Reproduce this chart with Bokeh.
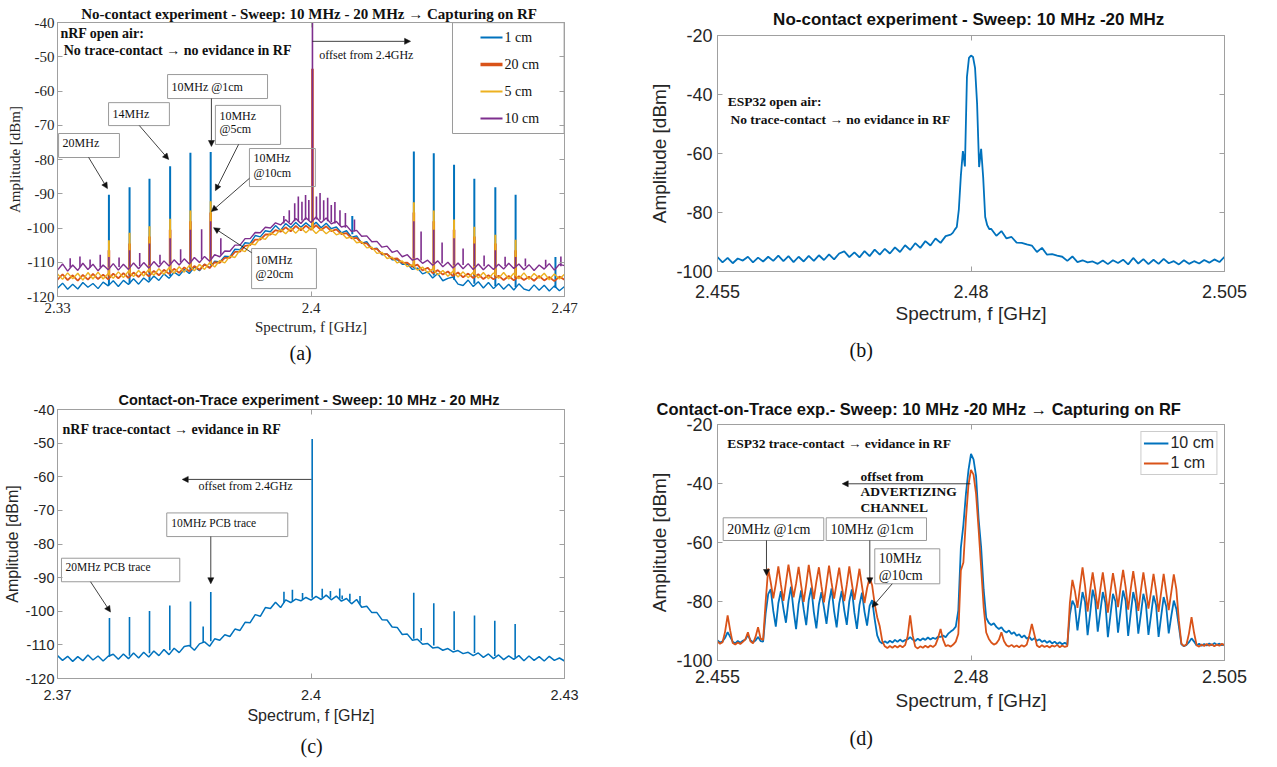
import numpy as np
from bokeh.plotting import figure
from bokeh.models import (Range1d, LinearAxis, FixedTicker, Label, Arrow, NormalHead,
                          Legend, LegendItem, Title, ColumnDataSource)
from bokeh.layouts import column, row
from bokeh.embed import file_html
from bokeh.resources import INLINE

# ---------------- colours / fonts ----------------
C_BLUE, C_ORANGE, C_YELLOW, C_PURPLE = "#0072BD", "#D95319", "#EDB120", "#7E2F8E"
FRAME = "#a0a0a0"
TXT = "#262626"
SERIF = "Liberation Serif"
SANS = "Liberation Sans"

# ================= DATA =================
# (a) no-contact, nRF, four distances
freq_a = np.round(np.linspace(2.330, 2.470, 101), 4)
blue_a = [-117.6, -116.1, -117.9, -116.4, -117.8, -115.9, -117.3, -116.2, -117.7, -115.8,
          -116.9, -115.4, -117.1, -115.3, -116.5, -114.8, -116.4, -114.6, -115.8, -114.0,
          -115.3, -113.4, -114.7, -112.9, -113.9, -112.1, -113.3, -111.4, -112.5, -110.6,
          -111.6, -109.7, -109.9, -108.2, -108.4, -106.2, -106.3, -104.3, -104.5, -102.2,
          -102.6, -100.8, -101.1, -99.3, -100.7, -98.7, -99.9, -98.4, -99.8, -98.5,
          -99.7, -98.3, -99.9, -98.6, -100.2, -99.7, -101.4, -100.8, -102.7, -102.3,
          -104.4, -104.0, -106.1, -105.9, -107.8, -107.6, -109.3, -109.2, -110.6, -110.5,
          -112.1, -111.7, -113.4, -112.8, -114.6, -113.3, -115.4, -114.7, -114.3, -116.4,
          -116.8, -115.2, -117.1, -115.7, -117.5, -115.9, -117.7, -116.2, -117.9, -116.4,
          -118.1, -116.3, -117.8, -118.3, -116.6, -118.2, -116.7, -118.4, -116.9, -118.3,
          -117.1]
orange_a = [-115.1, -113.5, -115.2, -113.8, -115.4, -113.7, -115.1, -113.4, -114.9, -113.6,
            -115.0, -113.3, -114.7, -113.2, -114.6, -113.0, -114.3, -112.7, -114.1, -112.5,
            -113.8, -112.2, -113.4, -111.9, -113.1, -111.5, -112.6, -111.1, -112.2, -110.6,
            -111.7, -110.0, -110.2, -108.7, -108.7, -107.0, -106.9, -105.2, -105.0, -103.4,
            -103.4, -101.9, -101.9, -100.6, -101.1, -99.8, -101.0, -99.4, -100.7, -99.3,
            -100.5, -99.2, -100.6, -99.5, -100.9, -100.4, -101.8, -101.5, -103.0, -102.9,
            -104.4, -104.5, -106.1, -106.1, -107.6, -107.6, -109.0, -108.9, -110.2, -110.1,
            -111.3, -110.7, -112.4, -111.6, -113.2, -112.3, -113.6, -112.7, -114.0, -113.0,
            -114.4, -113.3, -114.6, -113.5, -114.9, -113.8, -115.0, -113.9, -115.2, -114.0,
            -115.3, -114.1, -115.2, -114.2, -115.4, -114.0, -115.3, -114.3, -115.5, -114.2,
            -115.1]
yellow_a = [-113.4, -115.0, -113.1, -114.8, -113.2, -115.2, -113.0, -114.9, -112.9, -114.9,
            -113.3, -114.7, -112.8, -114.5, -112.6, -114.2, -112.4, -114.0, -112.1, -113.8,
            -111.9, -113.5, -111.6, -113.2, -111.3, -112.9, -110.9, -112.5, -110.6, -112.1,
            -110.1, -111.4, -109.5, -110.2, -108.2, -108.6, -106.4, -106.9, -104.6, -104.9,
            -102.9, -103.3, -101.5, -102.1, -100.4, -101.7, -100.1, -101.5, -99.9, -101.4,
            -100.0, -101.6, -100.2, -101.7, -100.5, -102.0, -101.4, -103.0, -102.6, -104.3,
            -104.0, -105.8, -105.6, -107.4, -107.1, -108.9, -108.5, -110.2, -109.6, -111.3,
            -110.7, -112.3, -111.4, -113.1, -111.9, -113.7, -112.4, -114.1, -112.6, -114.3,
            -112.8, -114.5, -112.9, -114.6, -113.0, -114.8, -113.1, -114.7, -113.0, -114.9,
            -113.2, -114.8, -113.1, -115.0, -113.3, -114.7, -113.2, -115.1, -113.4, -114.9,
            -113.5]
purple_a = [-112.3, -110.5, -112.6, -110.8, -112.4, -110.3, -112.1, -110.6, -112.5, -110.8,
            -112.2, -110.4, -112.3, -110.6, -112.1, -110.2, -111.9, -110.1, -111.7, -109.8,
            -111.4, -109.6, -111.1, -109.3, -110.8, -109.0, -110.5, -108.6, -110.1, -108.3,
            -109.7, -107.8, -108.4, -106.7, -106.8, -105.0, -105.0, -103.1, -103.1, -101.3,
            -101.4, -99.8, -100.0, -98.5, -99.1, -97.6, -99.0, -97.2, -98.7, -97.0,
            -98.4, -96.8, -98.5, -97.1, -98.8, -98.1, -99.7, -99.3, -101.0, -100.7,
            -102.4, -102.3, -104.0, -103.9, -105.6, -105.3, -107.1, -106.6, -108.4, -107.8,
            -109.4, -108.9, -110.3, -109.4, -110.9, -109.6, -111.3, -110.0, -111.7, -110.2,
            -111.9, -110.4, -112.1, -110.5, -112.2, -110.7, -112.1, -110.6, -112.0, -110.3,
            -111.8, -110.5, -112.2, -110.7, -112.4, -110.8, -112.0, -110.4, -112.3, -110.6,
            -111.0]

# (a) narrow spectral lines: frequency, foot, peak
spk_a_blue_f = [2.3442, 2.3499, 2.3554, 2.3611, 2.3667, 2.3723, 2.4114, 2.4284, 2.4339, 2.4395, 2.4451, 2.4509, 2.4565, 2.4675]
spk_a_blue_lo = [-116.7, -116.2, -115.3, -114.0, -112.5, -110.8, -101.8, -111.7, -113.9, -115.1, -116.3, -116.9, -117.2, -117.5]
spk_a_blue_hi = [-90.3, -88.1, -85.6, -82.0, -78.0, -77.8, -96.5, -77.7, -78.2, -81.5, -85.6, -88.1, -90.3, -108.5]

spk_a_orange_f = [2.3442, 2.3499, 2.3554, 2.3611, 2.3667, 2.3723, 2.4004, 2.4284, 2.4339, 2.4395, 2.4451, 2.4509, 2.4565]
spk_a_orange_lo = [-114.2, -113.8, -113.1, -112.4, -111.6, -110.6, -99.8, -111.3, -112.4, -113.4, -113.8, -114.2, -114.6]
spk_a_orange_hi = [-106.5, -104.5, -102.5, -100.5, -98.0, -95.5, -53.5, -95.5, -98.0, -100.5, -102.5, -104.5, -106.5]

spk_a_yellow_f = [2.3442, 2.3499, 2.3554, 2.3611, 2.3667, 2.3723, 2.4004, 2.4284, 2.4339, 2.4395, 2.4451, 2.4509, 2.4565]
spk_a_yellow_lo = [-113.6, -113.2, -112.6, -112.0, -111.2, -110.4, -100.4, -111.2, -112.3, -113.0, -113.5, -113.7, -113.9]
spk_a_yellow_hi = [-103.6, -101.4, -99.5, -97.3, -94.9, -92.2, -88.0, -92.5, -94.9, -97.5, -99.6, -102.0, -103.4]

spk_a_purple_f = [2.3335, 2.3362, 2.3390, 2.3418, 2.3442, 2.3470, 2.3499, 2.3527, 2.3554, 2.3583,
                  2.3611, 2.3640, 2.3667, 2.3698, 2.3723, 2.3751, 2.3925, 2.3940, 2.3955, 2.3965,
                  2.3975, 2.3985, 2.3994, 2.4004, 2.4015, 2.4025, 2.4035, 2.4046, 2.4056, 2.4066,
                  2.4080, 2.4095, 2.4120, 2.4284, 2.4304, 2.4339, 2.4362, 2.4395, 2.4420, 2.4451,
                  2.4478, 2.4509, 2.4536, 2.4565, 2.4592, 2.4648, 2.4690]
spk_a_purple_lo = [-111.5, -111.4, -111.6, -111.5, -111.5, -111.4, -111.3, -111.1, -110.9, -110.6,
                   -110.4, -110.0, -109.8, -109.2, -109.0, -107.8, -98.7, -98.3, -98.0, -98.0,
                   -97.8, -97.6, -97.7, -97.8, -97.5, -97.6, -97.8, -98.0, -98.3, -98.7,
                   -99.3, -99.9, -101.0, -108.9, -109.5, -110.2, -110.4, -110.9, -110.8, -111.2,
                   -111.2, -111.3, -111.2, -111.2, -111.2, -111.3, -111.2]
spk_a_purple_hi = [-108.8, -108.3, -109.2, -107.8, -108.5, -108.6, -106.5, -107.3, -104.5, -107.8,
                   -103.0, -106.2, -100.5, -100.4, -98.0, -103.0, -96.5, -94.8, -92.8, -90.8,
                   -92.3, -90.4, -91.8, -39.0, -90.8, -89.8, -91.9, -91.2, -93.3, -92.4,
                   -94.8, -95.6, -97.5, -98.0, -101.0, -100.5, -104.2, -103.0, -106.0, -104.5,
                   -108.0, -106.5, -108.4, -108.5, -108.9, -109.3, -108.3]

# (b) no-contact, ESP32
freq_b = np.round(np.concatenate([np.linspace(2.4550, 2.4780, 47),
                                  np.linspace(2.4782, 2.4818, 19),
                                  np.linspace(2.4820, 2.5050, 47)]), 4)
amp_b = [-95.1, -96.9, -95.4, -97.2, -95.6, -96.3, -95.0, -96.9, -95.3, -96.6,
         -95.0, -96.4, -94.6, -96.5, -94.8, -96.8, -95.0, -96.6, -94.7, -96.4,
         -94.5, -96.1, -94.2, -95.9, -93.9, -93.2, -95.1, -93.5, -95.2, -93.1,
         -94.8, -92.6, -94.3, -92.3, -93.9, -91.8, -93.4, -91.1, -92.7, -90.4,
         -92.0, -89.7, -91.2, -88.8, -90.3, -88.0, -87.5,
         -86.9, -85.8, -84.9, -79.0, -67.5, -59.2, -64.4, -34.0, -27.6, -26.8,
         -27.3, -31.0, -43.0, -64.6, -58.4, -68.0, -81.5, -84.3, -85.6,
         -85.6, -87.9, -86.3, -88.8, -88.3, -90.2, -90.3, -90.8, -91.2, -93.4,
         -92.0, -94.3, -94.1, -94.6, -95.0, -96.4, -94.9, -96.8, -96.2, -96.9,
         -96.6, -97.4, -96.3, -97.5, -96.2, -97.1, -96.0, -97.6, -95.4, -97.3,
         -95.8, -97.5, -96.0, -97.4, -95.7, -97.2, -96.5, -97.6, -96.2, -97.4,
         -96.5, -97.3, -96.1, -97.0, -95.9, -96.8, -95.0]

# (c) contact-on-trace, nRF
freq_c = np.round(np.linspace(2.370, 2.430, 101), 4)
amp_c = [-113.2, -114.6, -113.4, -114.9, -113.5, -114.7, -113.0, -114.5, -113.3, -114.8,
         -113.4, -112.8, -114.3, -112.7, -114.1, -112.4, -113.9, -112.2, -113.6, -111.8,
         -113.2, -111.4, -112.9, -111.0, -112.3, -110.5, -110.2, -111.6, -109.7, -109.1,
         -110.4, -108.2, -108.6, -107.0, -107.5, -105.3, -105.7, -103.3, -103.4, -101.0,
         -101.5, -98.9, -99.2, -97.3, -98.9, -96.6, -97.4, -96.4, -96.9, -95.9,
         -96.7, -95.6, -96.5, -95.2, -96.6, -95.5, -97.0, -96.2, -97.8, -96.5,
         -98.8, -98.5, -100.4, -100.4, -102.5, -102.6, -104.7, -104.8, -106.9, -106.8,
         -108.6, -108.3, -109.8, -109.6, -110.9, -110.7, -111.6, -111.1, -112.1, -111.7,
         -112.6, -112.2, -113.2, -112.4, -113.7, -112.7, -114.1, -113.0, -114.4, -113.3,
         -114.3, -113.2, -114.7, -113.3, -114.6, -113.5, -114.8, -113.4, -114.6, -113.9,
         -114.8]
spk_c_f = [2.37615, 2.37852, 2.38089, 2.38329, 2.38574, 2.38724, 2.38814, 2.3968, 2.3978, 2.3990,
           2.40014, 2.40133, 2.4023, 2.4034, 2.40369, 2.4046, 2.4058, 2.41216, 2.41304, 2.41453,
           2.41694, 2.41935, 2.42175, 2.42416]
spk_c_lo = [-113.5, -113.2, -112.5, -111.6, -110.4, -109.3, -108.9, -97.5, -97.0, -96.5,
            -96.0, -96.0, -96.0, -96.3, -96.4, -97.0, -97.8, -108.2, -108.8, -110.2,
            -111.5, -112.4, -113.3, -113.8]
spk_c_hi = [-102.0, -101.7, -99.9, -98.3, -97.1, -104.5, -94.3, -94.2, -93.6, -94.6,
            -48.8, -93.3, -94.0, -93.2, -95.3, -94.8, -95.5, -94.5, -105.0, -97.6,
            -100.0, -101.3, -102.8, -103.8]

# (d) contact-on-trace, ESP32, two distances
freq_d = np.round(np.linspace(2.455, 2.505, 201), 5)
amp_d_1cm = [-93.6, -94.3, -93.8, -90.2, -84.7, -89.8, -94.1, -94.6, -93.9, -94.4,
             -93.7, -92.8, -90.4, -93.5, -94.2, -92.0, -88.7, -92.6, -93.0, -80.0,
             -68.8, -73.5, -78.9, -74.0, -68.1, -74.2, -79.8, -73.6, -67.5, -73.1,
             -78.6, -73.9, -68.3, -74.5, -80.1, -74.2, -67.6, -73.4, -79.2, -73.3,
             -68.4, -74.8, -80.3, -74.0, -67.8, -73.7, -79.0, -73.8, -68.5, -74.6,
             -79.9, -74.3, -68.1, -73.9, -79.4, -74.5, -68.9, -74.8, -80.5, -75.5,
             -71.9, -74.5, -80.8, -85.3, -88.4, -93.4, -95.2, -95.8, -95.1, -95.7,
             -95.0, -95.6, -94.9, -95.5, -94.8, -91.8, -84.7, -91.5, -95.3, -95.9,
             -95.2, -95.7, -95.0, -95.6, -94.9, -95.4, -94.7, -92.4, -89.3, -93.0,
             -95.1, -94.8, -95.3, -94.6, -93.6, -91.0, -69.5, -66.8, -52.0, -40.5,
             -35.4, -37.0, -43.5, -55.5, -68.5, -82.0, -90.5, -92.6, -93.9, -94.6,
             -94.2, -93.0, -90.4, -93.4, -94.8, -95.3, -94.7, -95.4, -94.9, -95.5,
             -94.8, -95.3, -94.6, -91.5, -87.6, -91.2, -94.9, -95.5, -94.8, -95.4,
             -95.0, -95.6, -94.9, -95.3, -94.7, -95.5, -94.9, -95.4, -95.1, -80.5,
             -72.7, -76.5, -82.2, -75.0, -68.4, -74.8, -83.4, -76.2, -70.1, -75.9,
             -82.6, -76.0, -70.1, -76.4, -83.8, -76.7, -70.4, -75.6, -81.9, -75.2,
             -69.3, -75.1, -82.8, -75.8, -69.7, -75.7, -83.2, -76.4, -70.1, -76.0,
             -82.4, -76.8, -70.6, -76.3, -83.5, -77.0, -70.6, -76.7, -82.9, -76.9,
             -70.8, -75.8, -86.5, -94.3, -95.1, -94.6, -90.8, -85.3, -90.6, -94.8,
             -95.3, -94.6, -95.1, -94.4, -95.0, -94.5, -95.2, -94.6, -95.0, -94.3,
             -94.9]
amp_d_10cm = [-93.2, -93.9, -93.5, -92.3, -90.4, -92.0, -93.6, -94.2, -93.4, -94.0,
              -93.3, -92.9, -91.4, -93.1, -93.8, -93.2, -92.0, -93.4, -93.6, -84.0,
              -77.5, -75.8, -83.2, -88.5, -80.6, -76.5, -82.4, -87.2, -79.8, -75.0,
              -83.0, -89.4, -80.9, -76.2, -82.7, -88.0, -79.5, -75.3, -83.6, -89.1,
              -81.0, -76.8, -82.1, -87.6, -80.2, -75.6, -83.3, -88.8, -80.7, -76.4,
              -82.9, -87.9, -79.9, -75.9, -83.8, -89.3, -81.2, -77.0, -83.5, -88.2,
              -81.5, -79.5, -86.0, -91.5, -93.6, -94.2, -93.5, -94.1, -93.3, -93.9,
              -93.0, -93.7, -92.9, -93.6, -93.1, -92.8, -92.1, -92.9, -93.4, -92.6,
              -93.2, -92.5, -93.0, -92.2, -92.9, -92.3, -92.7, -91.9, -92.0, -91.5,
              -92.1, -90.9, -90.2, -89.6, -88.5, -83.0, -61.8, -54.0, -43.5, -35.5,
              -30.0, -31.8, -37.5, -52.0, -61.6, -76.0, -85.5, -87.2, -88.0, -87.4,
              -88.6, -89.3, -88.7, -89.9, -90.5, -89.8, -91.0, -90.4, -91.6, -91.1,
              -92.2, -91.5, -92.6, -92.0, -93.1, -92.4, -93.3, -92.8, -93.7, -93.2,
              -94.0, -93.4, -94.2, -93.6, -94.4, -93.8, -94.5, -94.0, -94.6, -84.5,
              -79.7, -81.5, -89.8, -83.0, -76.8, -80.2, -91.4, -84.1, -76.0, -79.6,
              -90.2, -83.5, -76.8, -80.4, -92.1, -84.7, -77.4, -80.0, -90.6, -83.2,
              -76.3, -79.8, -91.7, -84.0, -76.8, -80.5, -90.9, -84.4, -77.4, -80.9,
              -91.3, -84.8, -78.0, -81.2, -92.0, -85.1, -78.5, -81.6, -90.8, -85.0,
              -79.7, -82.5, -88.4, -94.5, -95.2, -94.7, -93.8, -92.5, -93.6, -94.9,
              -94.3, -95.0, -94.4, -94.9, -94.2, -94.8, -94.1, -94.7, -94.3, -94.8,
              -94.5]

for a, b in [(freq_a, blue_a), (freq_a, orange_a), (freq_a, yellow_a), (freq_a, purple_a),
             (freq_b, amp_b), (freq_c, amp_c), (freq_d, amp_d_1cm), (freq_d, amp_d_10cm)]:
    assert len(a) == len(b), (len(a), len(b))

# tick labels
xt_a, xl_a = [2.33, 2.4, 2.47], ["2.33", "2.4", "2.47"]
yt_a = [-120, -110, -100, -90, -80, -70, -60, -50, -40]
xt_b, xl_b = [2.455, 2.48, 2.505], ["2.455", "2.48", "2.505"]
yt_b = [-100, -80, -60, -40, -20]
xt_c, xl_c = [2.37, 2.4, 2.43], ["2.37", "2.4", "2.43"]
yt_c = yt_a
legend_a = ["1 cm", "20 cm", "5 cm", "10 cm"]
legend_d = ["10 cm", "1 cm"]


# ================= helpers =================
def make_fig(w, h, xr, yr, ml, mr, mt, mb, title=None):
    kw = dict(width=w, height=h, x_range=Range1d(*xr), y_range=Range1d(*yr),
              output_backend="svg", toolbar_location=None,
              min_border_left=ml, min_border_right=mr, min_border_top=mt, min_border_bottom=mb)
    if title is not None:
        kw["title"] = title
    p = figure(**kw)
    p.xgrid.visible = False
    p.ygrid.visible = False
    p.outline_line_color = FRAME
    p.background_fill_color = "white"
    p.border_fill_color = "white"
    return p


def style_axes(p, xt, xl, yt, font, tsize, lsize, xst, xlst, yst, ylst):
    yl = [str(v) for v in yt]
    for ax, ticks, labels, st, lst in ((p.xaxis[0], xt, xl, xst, xlst), (p.yaxis[0], yt, yl, yst, ylst)):
        ax.ticker = FixedTicker(ticks=ticks)
        ax.major_label_overrides = dict(zip(ticks, labels))
        ax.major_tick_in = 5
        ax.major_tick_out = 0
        ax.minor_tick_line_color = None
        ax.axis_line_color = FRAME
        ax.major_tick_line_color = FRAME
        ax.major_label_text_font = font
        ax.major_label_text_font_size = tsize
        ax.major_label_text_color = TXT
        ax.axis_label_text_font = font
        ax.axis_label_text_font_size = lsize
        ax.axis_label_text_font_style = "normal"
        ax.axis_label_text_color = TXT
        ax.major_label_standoff = st
        ax.axis_label_standoff = lst
    p.xaxis[0].axis_label = "Spectrum, f [GHz]"
    p.yaxis[0].axis_label = "Amplitude [dBm]"
    for loc, ticks in (("above", xt), ("right", yt)):
        ax = LinearAxis(ticker=FixedTicker(ticks=ticks), major_tick_in=5, major_tick_out=0,
                        minor_tick_line_color=None, axis_line_color=FRAME,
                        major_tick_line_color=FRAME, major_label_text_font_size="0px",
                        major_label_standoff=0, major_label_overrides={t: "" for t in ticks})
        p.add_layout(ax, loc)


def caption(p, text, offset, standoff):
    p.add_layout(Title(text=text, align="left", offset=offset, standoff=standoff,
                       text_font=SERIF, text_font_size="20px", text_font_style="normal",
                       text_color="#111111"), "below")


def lab(p, x, y, text, size, font=SERIF, bold=False, align="left", baseline="middle"):
    p.add_layout(Label(x=x, y=y, text=text, text_font=font, text_font_size=size,
                       text_font_style="bold" if bold else "normal", text_color="#111111",
                       text_align=align, text_baseline=baseline))


def arrow(p, x0, y0, x1, y1):
    p.add_layout(Arrow(end=NormalHead(size=6, fill_color="#111111", line_color="#111111", line_width=0.5),
                       x_start=x0, y_start=y0, x_end=x1, y_end=y1,
                       line_color="#111111", line_width=0.8))


def boxes(p, left, right, top, bottom):
    p.quad(left=left, right=right, top=top, bottom=bottom, fill_color=None,
           line_color="#9a9a9a", line_width=1)


def spikes(p, f, lo, hi, color, width):
    src = ColumnDataSource(dict(x=f, y0=lo, y1=hi))
    p.segment(x0="x", y0="y0", x1="x", y1="y1", source=src, line_color=color, line_width=width)


# ================= (a) =================
ta = Title(text="No-contact experiment -  Sweep: 10 MHz - 20 MHz \u2192 Capturing on RF", align="center",
           text_font=SERIF, text_font_size="15px", text_font_style="bold", text_color="#111111", standoff=2)
pa = make_fig(636, 385, (2.33, 2.47), (-120, -40), 57, 72, 22, 89, title=ta)
style_axes(pa, xt_a, xl_a, yt_a, SERIF, "15px", "15px", 6, 3, 3, 1)
src_a = ColumnDataSource(dict(f=freq_a, b=blue_a, o=orange_a, y=yellow_a, p=purple_a))
pa.line("f", "b", source=src_a, color=C_BLUE, line_width=1.4)
spikes(pa, spk_a_blue_f, spk_a_blue_lo, spk_a_blue_hi, C_BLUE, 2)
pa.line("f", "o", source=src_a, color=C_ORANGE, line_width=1.8)
spikes(pa, spk_a_orange_f, spk_a_orange_lo, spk_a_orange_hi, C_ORANGE, 2.6)
pa.line("f", "y", source=src_a, color=C_YELLOW, line_width=1.4)
spikes(pa, spk_a_yellow_f, spk_a_yellow_lo, spk_a_yellow_hi, C_YELLOW, 2)
pa.line("f", "p", source=src_a, color=C_PURPLE, line_width=1.4)
spikes(pa, spk_a_purple_f, spk_a_purple_lo, spk_a_purple_hi, C_PURPLE, 1.6)

lab(pa, 2.3308, -43.2, "nRF open air:", "14px", bold=True)
lab(pa, 2.3317, -48.2, " No trace-contact \u2192 no evidance in RF", "14px", bold=True)
lab(pa, 2.4023, -49.6, "offset from 2.4GHz", "12px")
arrow(pa, 2.4004, -45.5, 2.4275, -45.5)
boxes(pa, [2.3303, 2.3441, 2.3604, 2.3736, 2.3830, 2.3836],
      [2.3471, 2.3609, 2.3880, 2.3916, 2.4012, 2.4015],
      [-72.41, -63.4, -55.2, -64.2, -76.8, -106.0],
      [-79.42, -70.1, -62.2, -75.6, -87.9, -117.7])
for x, y, t in [(2.3314, -75.3, "20MHz"), (2.3452, -66.7, "14MHz"), (2.3615, -58.7, "10MHz @1cm"),
                (2.3747, -67.4, "10MHz"), (2.3747, -71.2, "@5cm"),
                (2.3841, -79.7, "10MHz"), (2.3841, -83.8, "@10cm"),
                (2.3847, -109.2, "10MHz"), (2.3847, -113.3, "@20cm")]:
    lab(pa, x, y, t, "12px")
for a in [(2.3386, -79.4, 2.3438, -88.5), (2.3526, -70.1, 2.3607, -80.0), (2.3725, -62.2, 2.3725, -76.2),
          (2.3800, -75.6, 2.3736, -89.1), (2.3830, -85.5, 2.3725, -95.2), (2.3836, -107.2, 2.3731, -99.9)]:
    arrow(pa, *a)
# legend (MATLAB style box)
pa.quad(left=[2.43907], right=[2.4699], top=[-40.05], bottom=[-72.41], fill_color="white",
        line_color="#9a9a9a", line_width=1)
leg_y = [-44.38, -52.26, -60.15, -68.03]
pa.segment(x0=[2.4468] * 4, x1=[2.45288] * 4, y0=leg_y, y1=leg_y,
           line_color=[C_BLUE, C_ORANGE, C_YELLOW, C_PURPLE], line_width=[2, 3.5, 2, 2])
for yv, t in zip(leg_y, legend_a):
    lab(pa, 2.45343, yv, t, "14px")
caption(pa, "(a)", 232, 5)

# ================= (b) =================
tb = Title(text="No-contact experiment -  Sweep: 10 MHz -20 MHz", align="center",
           text_font=SANS, text_font_size="17px", text_font_style="bold", text_color="#111111", standoff=13)
pb = make_fig(641, 385, (2.455, 2.505), (-100, -20), 81, 53, 35, 114, title=tb)
style_axes(pb, xt_b, xl_b, yt_b, SANS, "18px", "19px", 13, 2, 5, 3)
pb.line(freq_b, amp_b, color=C_BLUE, line_width=1.8)
lab(pb, 2.4560, -42.5, "ESP32 open air:", "13.5px", bold=True)
lab(pb, 2.45628, -48.6, " No trace-contact \u2192 no evidance in RF", "13.5px", bold=True)
caption(pb, "(b)", 132, 21)

# ================= (c) =================
tc = Title(text="Contact-on-Trace experiment -  Sweep: 10 MHz - 20 MHz", align="center",
           text_font=SANS, text_font_size="14.5px", text_font_style="bold", text_color="#111111", standoff=4)
pc = make_fig(636, 382, (2.37, 2.43), (-120, -40), 57, 72, 24, 89, title=tc)
style_axes(pc, xt_c, xl_c, yt_c, SANS, "14.5px", "16px", 11, 4, 3, 1)
pc.line(freq_c, amp_c, color=C_BLUE, line_width=1.5)
spikes(pc, spk_c_f, spk_c_lo, spk_c_hi, C_BLUE, 1.6)
lab(pc, 2.37059, -46.05, "nRF trace-contact \u2192 evidance in RF", "14px", bold=True)
lab(pc, 2.38669, -62.66, "offset from 2.4GHz", "12px")
arrow(pc, 2.40006, -60.79, 2.38476, -60.79)
boxes(pc, [2.38293, 2.37047], [2.39725, 2.38447], [-70.76, -84.23], [-77.79, -91.23])
lab(pc, 2.38346, -73.73, "10MHz PCB trace", "11.5px")
lab(pc, 2.37095, -86.90, "20MHz PCB trace", "11.5px")
arrow(pc, 2.38814, -77.79, 2.38814, -91.82)
arrow(pc, 2.37391, -91.23, 2.37627, -100.25)
caption(pc, "(c)", 243, 12)

# ================= (d) =================
td = Title(text="Contact-on-Trace exp.-  Sweep: 10 MHz -20 MHz \u2192 Capturing on RF", align="left",
           offset=-61, text_font=SANS, text_font_size="16.5px", text_font_style="bold",
           text_color="#111111", standoff=14)
pd_ = make_fig(641, 382, (2.455, 2.505), (-100, -20), 81, 53, 39, 107, title=td)
style_axes(pd_, xt_b, xl_b, yt_b, SANS, "18px", "19px", 9, 4, 5, 3)
src_d = ColumnDataSource(dict(f=freq_d, a10=amp_d_10cm, a1=amp_d_1cm))
r10 = pd_.line("f", "a10", source=src_d, color=C_BLUE, line_width=1.8)
r1 = pd_.line("f", "a1", source=src_d, color=C_ORANGE, line_width=1.8)
leg = Legend(items=[LegendItem(label=legend_d[0], renderers=[r10]), LegendItem(label=legend_d[1], renderers=[r1])],
             location="top_right", margin=7, padding=2, spacing=2, glyph_width=25, glyph_height=18,
             label_height=18, label_standoff=2, label_text_font=SANS, label_text_font_size="16px",
             label_text_color=TXT, border_line_color="#9a9a9a", background_fill_alpha=1.0)
pd_.add_layout(leg)
lab(pd_, 2.45596, -26.54, "ESP32 trace-contact \u2192 evidance in RF", "13.5px", bold=True)
lab(pd_, 2.46910, -37.53, "offset from", "13.5px", bold=True)
lab(pd_, 2.46910, -42.71, "ADVERTIZING", "13.5px", bold=True)
lab(pd_, 2.46910, -48.24, "CHANNEL", "13.5px", bold=True)
arrow(pd_, 2.47995, -40.10, 2.46730, -40.10)
boxes(pd_, [2.45556, 2.46572, 2.47051], [2.46548, 2.47561, 2.47692],
      [-51.63, -51.63, -62.14], [-59.32, -59.32, -74.00])
lab(pd_, 2.45596, -55.59, "20MHz @1cm", "14px")
lab(pd_, 2.46614, -55.59, "10MHz @1cm", "14px")
lab(pd_, 2.47090, -65.53, "10MHz", "14px")
lab(pd_, 2.47090, -71.19, "@10cm", "14px")
arrow(pd_, 2.45983, -59.32, 2.45983, -71.19)
arrow(pd_, 2.47002, -59.32, 2.47002, -74.00)
arrow(pd_, 2.47223, -74.00, 2.47025, -81.93)
caption(pd_, "(d)", 132, 23)

layout = row(column(pa, pc), column(pb, pd_))
open("out.html", "w").write(file_html(layout, INLINE))
